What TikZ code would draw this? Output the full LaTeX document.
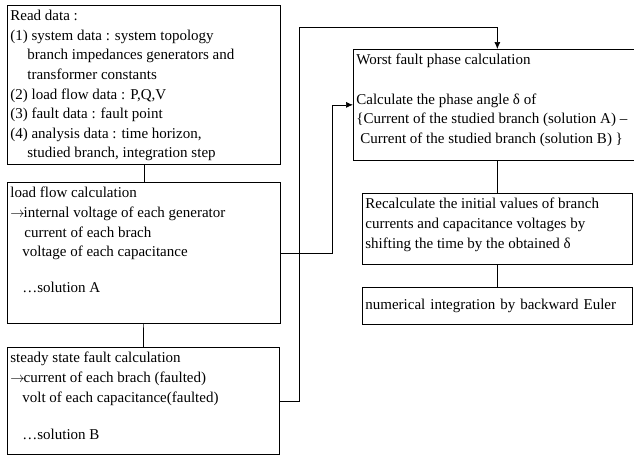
\documentclass[tikz,border=0pt]{standalone}
\usepackage{fontspec}
\setmainfont{Liberation Serif}
\usetikzlibrary{arrows.meta}

\tikzset{
  flowbox/.style={draw, line width=0.7pt, anchor=north west, inner xsep=3pt, inner ysep=5pt},
  flowline/.style={line width=0.7pt},
}
\newcommand{\boxbody}[3]{\parbox[t][#2][t]{#1}{#3}}
\newcommand{\gives}{$\rightarrow$\kern-1pt}

\begin{document}
\begin{tikzpicture}[x=1pt,y=-1pt,>={Latex[length=7pt,width=6pt]},
    every node/.style={font=\fontsize{15}{19.6}\selectfont}]
        \path[use as bounding box, clip] (0,0) rectangle (634,455);

        \node[flowbox] (read) at (7,5) {\boxbody{267pt}{149pt}{%
          Read data :\\
          (1) system data : system topology\\
          \hspace*{17pt}branch impedances generators and\\
          \hspace*{17pt}transformer constants\\
          (2) load flow data : P,Q,V\\
          (3) fault data : fault point\\
          (4) analysis data : time horizon,\\
          \hspace*{17pt}studied branch, integration step}};

        \node[flowbox] (loadflow) at (7,182) {\boxbody{267pt}{131pt}{%
          load flow calculation\\
          \gives internal voltage of each generator\\
          \hspace*{14pt}current of each brach\\
          \hspace*{12pt}voltage of each capacitance\\[16pt]
          \hspace*{12pt}…solution A}};

        \node[flowbox] (fault) at (7,347) {\boxbody{266pt}{97pt}{%
          steady state fault calculation\\
          \gives current of each brach (faulted)\\
          \hspace*{12pt}volt of each capacitance(faulted)\\[18pt]
          \hspace*{12pt}…solution B}};

        \node[flowbox] (phase) at (353,49) {\boxbody{282pt}{101pt}{%
          Worst fault phase calculation\\[19.6pt]
          Calculate the phase angle δ of\\
          \{Current of the studied branch (solution A) –\\
          \hspace*{4pt}Current of the studied branch (solution B) \}}};

        \node[flowbox] (recalc) at (362,193) {\boxbody{264pt}{61pt}{%
          Recalculate the initial values of branch\\
          currents and capacitance voltages by\\
          shifting the time by the obtained δ}};

        \node[flowbox, minimum width=270pt, minimum height=37pt, text width=264pt]
          (euler) at (362,287) {numerical integration by backward Euler};

        \coordinate (turn) at ([xshift=-21pt]phase.west);
        \coordinate (upper) at (299,27);

        \draw[flowline] (read) -- (loadflow);
        \draw[flowline] (loadflow) -- (fault);
        \draw[flowline,->] (loadflow.east) -| (turn) -- (phase.west);
        \draw[flowline,->] (fault.east) -| (upper) -| (phase.north);
        \draw[flowline] (phase.south) -- (recalc.north);
        \draw[flowline] (recalc) -- (euler);
      \end{tikzpicture}
\end{document}
